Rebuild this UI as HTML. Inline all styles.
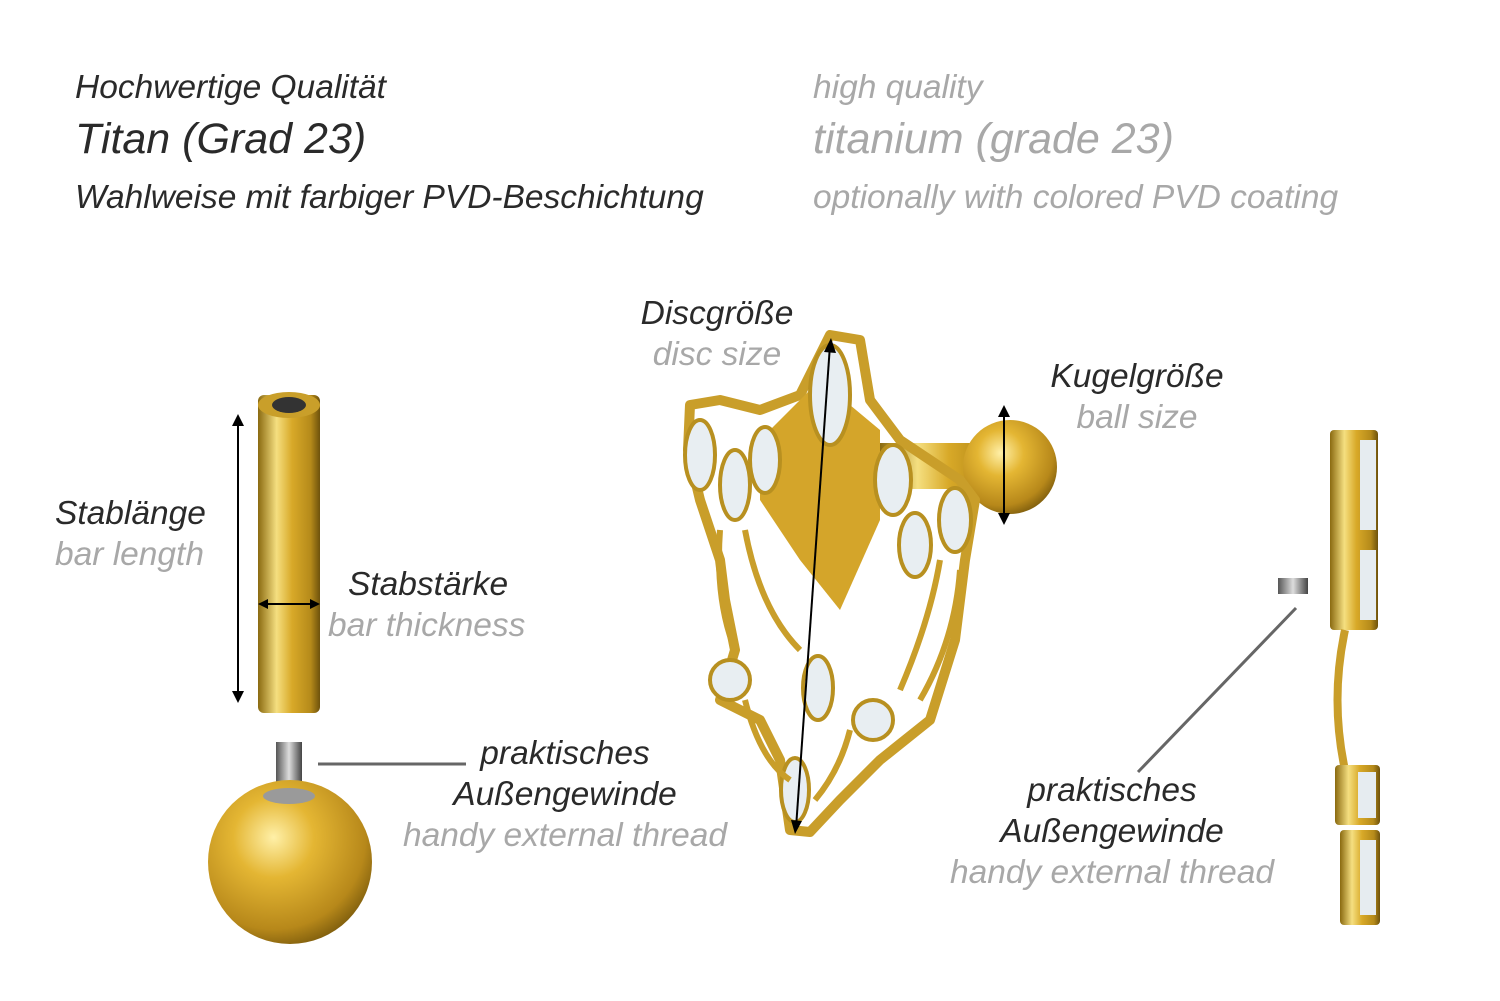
<!DOCTYPE html>
<html><head><meta charset="utf-8"><style>
html,body{margin:0;padding:0;background:#fff;}
#c{position:relative;width:1500px;height:1001px;overflow:hidden;font-family:"Liberation Sans",sans-serif;font-style:italic;}
.t{position:absolute;white-space:nowrap;line-height:1;font-size:33.5px;}
.d{color:#2a2a2a}.g{color:#a8a8a8}
.cen{transform:translateX(-50%);}
svg{position:absolute;left:0;top:0;}
</style></head><body><div id="c">
<svg width="1500" height="1001" viewBox="0 0 1500 1001">
<defs>
<linearGradient id="gb" x1="0" x2="1" y1="0" y2="0">
<stop offset="0" stop-color="#8a6a10"/><stop offset="0.3" stop-color="#f5df80"/><stop offset="0.55" stop-color="#d8a928"/><stop offset="0.85" stop-color="#b58a1a"/><stop offset="1" stop-color="#6e520c"/></linearGradient>
<radialGradient id="gr" cx="0.4" cy="0.35" r="0.7">
<stop offset="0" stop-color="#fff0a8"/><stop offset="0.35" stop-color="#e4b633"/><stop offset="0.8" stop-color="#b7881a"/><stop offset="1" stop-color="#7a5a0c"/></radialGradient>
<linearGradient id="th" x1="0" x2="1"><stop offset="0" stop-color="#555"/><stop offset="0.5" stop-color="#ddd"/><stop offset="1" stop-color="#444"/></linearGradient>
</defs>
<rect x="258" y="395" width="62" height="318" rx="6" fill="url(#gb)"/>
<ellipse cx="289" cy="405" rx="31" ry="13" fill="#c99f2a"/>
<ellipse cx="289" cy="405" rx="17" ry="8" fill="#333"/>
<rect x="276" y="742" width="26" height="58" fill="url(#th)"/>
<circle cx="290" cy="862" r="82" fill="url(#gr)"/>
<ellipse cx="289" cy="796" rx="26" ry="8" fill="#9a9a9a"/>
<line x1="238" y1="420" x2="238" y2="697" stroke="#000" stroke-width="2"/>
<path d="M232,426 L238,414 L244,426Z M232,691 L238,703 L244,691Z" fill="#000"/>
<line x1="262" y1="604" x2="316" y2="604" stroke="#000" stroke-width="2"/>
<path d="M268,599 L258,604 L268,609Z M310,599 L320,604 L310,609Z" fill="#000"/>
<line x1="318" y1="764" x2="466" y2="764" stroke="#666" stroke-width="3"/>
<rect x="880" y="443" width="125" height="46" fill="url(#gb)"/>
<circle cx="1010" cy="467" r="47" fill="url(#gr)"/>
<path d="M690,405 L720,400 L760,410 L800,395 L830,335 L860,340 L870,400 L900,440 L960,480 L975,500 L965,560 L955,640 L930,720 L880,760 L840,800 L810,832 L790,830 L780,760 L760,720 L720,700 L735,650 L725,600 L720,560 L700,500 L688,450Z" fill="none" stroke="#c99e2a" stroke-width="10" stroke-linejoin="round"/>
<path d="M760,440 L820,380 L880,430 L880,520 L840,610 L800,560 L760,500Z" fill="#d4a52a"/>
<g fill="#e8eef2" stroke="#b89020" stroke-width="4">
<ellipse cx="830" cy="395" rx="20" ry="50"/>
<ellipse cx="700" cy="455" rx="15" ry="35"/>
<ellipse cx="735" cy="485" rx="15" ry="35"/>
<ellipse cx="765" cy="460" rx="15" ry="33"/>
<ellipse cx="893" cy="480" rx="18" ry="35"/>
<ellipse cx="915" cy="545" rx="16" ry="32"/>
<ellipse cx="955" cy="520" rx="16" ry="32"/>
<circle cx="730" cy="680" r="20"/>
<ellipse cx="818" cy="688" rx="15" ry="32"/>
<circle cx="873" cy="720" r="20"/>
<ellipse cx="795" cy="790" rx="14" ry="32"/>
</g>
<g fill="none" stroke="#c99e2a" stroke-width="6">
<path d="M720,530 Q715,600 735,650"/><path d="M745,530 Q760,610 800,650"/>
<path d="M940,560 Q930,620 900,690"/><path d="M960,570 Q955,640 920,700"/>
<path d="M745,700 Q760,760 790,780"/><path d="M850,730 Q840,770 815,800"/>
</g>
<line x1="830" y1="345" x2="796" y2="828" stroke="#000" stroke-width="2"/>
<path d="M824,352 L831,338 L836,353Z M791,820 L795,834 L802,821Z" fill="#000"/>
<line x1="1004" y1="410" x2="1004" y2="520" stroke="#000" stroke-width="2"/>
<path d="M998,417 L1004,405 L1010,417Z M998,513 L1004,525 L1010,513Z" fill="#000"/>
<rect x="1278" y="578" width="30" height="16" fill="url(#th)"/>
<rect x="1330" y="430" width="48" height="200" rx="4" fill="url(#gb)"/>
<rect x="1360" y="440" width="16" height="90" fill="#e6ecf0"/>
<rect x="1360" y="550" width="16" height="70" fill="#e6ecf0"/>
<path d="M1345,630 Q1330,700 1345,770" fill="none" stroke="#c99e2a" stroke-width="8"/>
<rect x="1335" y="765" width="45" height="60" rx="4" fill="url(#gb)"/>
<rect x="1358" y="772" width="18" height="46" fill="#e6ecf0"/>
<rect x="1340" y="830" width="40" height="95" rx="4" fill="url(#gb)"/>
<rect x="1360" y="840" width="16" height="75" fill="#e6ecf0"/>
<line x1="1296" y1="608" x2="1138" y2="772" stroke="#666" stroke-width="3"/>
</svg>
<div class="t d" style="left:75px;top:71px;">Hochwertige Qualität</div>
<div class="t d" style="left:75px;top:118px;font-size:43px">Titan (Grad 23)</div>
<div class="t d" style="left:75px;top:181px;">Wahlweise mit farbiger PVD-Beschichtung</div>
<div class="t g" style="left:813px;top:71px;">high quality</div>
<div class="t g" style="left:813px;top:118px;font-size:43px">titanium (grade 23)</div>
<div class="t g" style="left:813px;top:181px;">optionally with colored PVD coating</div>
<div class="t d" style="left:55px;top:497px;">Stablänge</div>
<div class="t g" style="left:55px;top:538px;">bar length</div>
<div class="t d" style="left:348px;top:568px;">Stabstärke</div>
<div class="t g" style="left:328px;top:609px;">bar thickness</div>
<div class="t d cen" style="left:565px;top:737px;">praktisches</div>
<div class="t d cen" style="left:565px;top:778px;">Außengewinde</div>
<div class="t g cen" style="left:565px;top:819px;">handy external thread</div>
<div class="t d cen" style="left:717px;top:297px;">Discgröße</div>
<div class="t g cen" style="left:717px;top:338px;">disc size</div>
<div class="t d cen" style="left:1137px;top:360px;">Kugelgröße</div>
<div class="t g cen" style="left:1137px;top:401px;">ball size</div>
<div class="t d cen" style="left:1112px;top:774px;">praktisches</div>
<div class="t d cen" style="left:1112px;top:815px;">Außengewinde</div>
<div class="t g cen" style="left:1112px;top:856px;">handy external thread</div>
</div></body></html>
